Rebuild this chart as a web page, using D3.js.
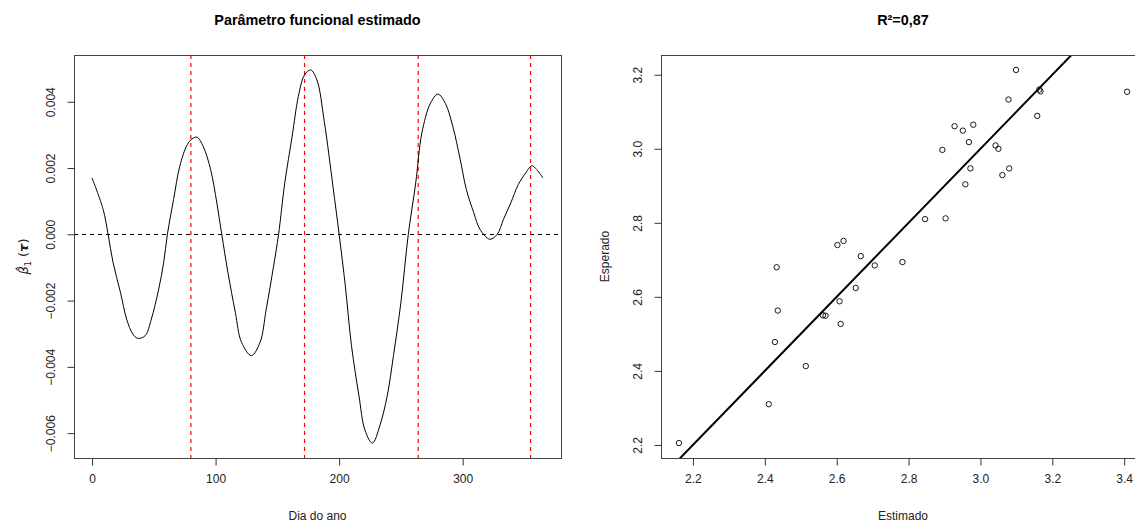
<!DOCTYPE html>
<html>
<head>
<meta charset="utf-8">
<script src="https://cdn.jsdelivr.net/npm/d3@7"></script>
<style>
body { margin: 0; background: #fff; }
svg { display: block; font-family: "Liberation Sans", Arial, sans-serif; }
</style>
</head>
<body>
<div id="chart"></div>
<script>
const w = 1135;
const h = 522;

// painel esquerdo: parametro funcional
const days = [0, 9, 13, 17, 23, 28, 33, 37, 43, 48, 54, 58, 61, 66, 71, 77, 81, 85, 90, 96,
  101, 105, 110, 116, 121, 129, 136, 141, 147, 151, 156, 162, 167, 172, 177, 182, 188, 195,
  200, 205, 210, 216, 221, 227, 233, 239, 244, 250, 256, 262, 267, 274, 280, 286, 292, 298,
  303, 309, 314, 322, 328, 333, 339, 345, 351, 356, 360, 365];
const beta = [0.0017, 0.00075, 0, -0.00085, -0.00175, -0.00256, -0.00301, -0.00314, -0.00306, -0.00256,
  -0.00165, -0.00085, 0, 0.00105, 0.00205, 0.0027, 0.00288, 0.00293, 0.00265, 0.00195,
  0.00095, 0, -0.00115, -0.00236, -0.00326, -0.00366, -0.00326, -0.00226, -0.00095, 0,
  0.00155, 0.00296, 0.00416, 0.00481, 0.00496, 0.00466, 0.0034, 0.00145, 0, -0.00155,
  -0.00336, -0.00486, -0.00592, -0.0063, -0.00577, -0.00486, -0.00366, -0.00206, 0, 0.00155,
  0.00306, 0.00396, 0.00423, 0.00395, 0.00326, 0.00226, 0.00135, 0.00065, 0.00015, -0.00015,
  0, 0.00045, 0.00095, 0.0015, 0.00185, 0.00207, 0.00195, 0.0017];
const seasonDays = [80, 172, 264, 355];
const dayTicks = [0, 100, 200, 300];
const betaTicks = [-0.006, -0.004, -0.002, 0, 0.002, 0.004];

// painel direito: estimado x esperado
const estimado = [2.161, 2.411, 2.428, 2.433, 2.436, 2.514, 2.562, 2.569, 2.602, 2.619,
  2.608, 2.611, 2.653, 2.667, 2.706, 2.783, 2.846, 2.903, 2.894, 2.928,
  2.951, 2.980, 2.968, 3.042, 3.050, 2.972, 3.080, 3.061, 2.958, 3.099,
  3.078, 3.158, 3.164, 3.167, 3.408];
const esperado = [2.205, 2.310, 2.478, 2.680, 2.563, 2.413, 2.550, 2.549, 2.740, 2.751,
  2.588, 2.527, 2.624, 2.710, 2.685, 2.694, 2.810, 2.812, 2.997, 3.061,
  3.049, 3.065, 3.018, 3.009, 3.000, 2.947, 2.947, 2.929, 2.904, 3.213,
  3.133, 3.089, 3.160, 3.155, 3.154];
const estTicks = [2.2, 2.4, 2.6, 2.8, 3.0, 3.2, 3.4];
const espTicks = [2.2, 2.4, 2.6, 2.8, 3.0, 3.2];
const refIntercept = 0;
const refSlope = 1;

const L = {x0: 74, x1: 561, y0: 55, y1: 458};
const R = {x0: 661, x1: 1145, y0: 55, y1: 458};

// extensao estilo R (4% de cada lado)
function padExt(v) {
  const e = d3.extent(v);
  const r = e[1] - e[0];
  return [e[0] - 0.04 * r, e[1] + 0.04 * r];
}

const svg = d3.select("#chart")
  .append("svg")
  .attr("width", w)
  .attr("height", h);

const xL = d3.scaleLinear().domain(padExt(days)).range([L.x0, L.x1]);
const yL = d3.scaleLinear().domain(padExt(beta)).range([L.y1, L.y0]);
const xR = d3.scaleLinear().domain(padExt(estimado)).range([R.x0, R.x1]);
const yR = d3.scaleLinear().domain(padExt(esperado)).range([R.y1, R.y0]);

function bottomAxis(scale, ticks, box, fmt) {
  const g = svg.append("g")
    .attr("transform", "translate(0," + (box.y1 + 0.5) + ")")
    .call(d3.axisBottom(scale).tickValues(ticks).tickSize(7).tickPadding(9).tickFormat(fmt));
  g.select(".domain").remove();
  g.attr("font-size", 12).attr("font-family", null);
  g.selectAll("line").attr("stroke", "#333");
  g.selectAll("text").attr("fill", "#222");
}

function leftAxis(scale, ticks, box, fmt) {
  const g = svg.append("g")
    .attr("transform", "translate(" + (box.x0 + 0.5) + ",0)")
    .call(d3.axisLeft(scale).tickValues(ticks).tickSize(7).tickFormat(fmt));
  g.select(".domain").remove();
  g.attr("font-size", 12).attr("font-family", null);
  g.selectAll("line").attr("stroke", "#333");
  g.selectAll("text")
    .attr("x", null)
    .attr("dy", "0.35em")
    .attr("text-anchor", "middle")
    .attr("transform", "translate(-24,0) rotate(-90)")
    .attr("fill", "#222");
}

// ---------- painel esquerdo ----------
svg.append("text")
  .attr("x", (L.x0 + L.x1) / 2)
  .attr("y", 25)
  .attr("text-anchor", "middle")
  .attr("font-size", 14.4)
  .attr("font-weight", "bold")
  .text("Parâmetro funcional estimado");

svg.append("line")
  .attr("x1", L.x0).attr("x2", L.x1)
  .attr("y1", Math.round(yL(0)) + 0.5).attr("y2", Math.round(yL(0)) + 0.5)
  .attr("stroke", "#000")
  .attr("stroke-dasharray", "4,4");

svg.selectAll(".season")
  .data(seasonDays)
  .enter()
  .append("line")
  .attr("class", "season")
  .attr("x1", d => xL(d))
  .attr("x2", d => xL(d))
  .attr("y1", L.y0).attr("y2", L.y1)
  .style("stroke", "rgb(255,0,0)")
  .attr("stroke-width", 1.2)
  .attr("stroke-dasharray", "4,4");

const betaLine = d3.line()
  .x((d, i) => xL(days[i]))
  .y(d => yL(d))
  .curve(d3.curveCatmullRom.alpha(0.5));

svg.append("path")
  .attr("d", betaLine(beta))
  .attr("fill", "none")
  .attr("stroke", "#000")
  .attr("stroke-width", 1);

svg.append("rect")
  .attr("x", L.x0 + 0.5).attr("y", L.y0 + 0.5)
  .attr("width", L.x1 - L.x0).attr("height", L.y1 - L.y0)
  .attr("fill", "none")
  .attr("stroke", "#444");

bottomAxis(xL, dayTicks, L, d3.format("d"));
leftAxis(yL, betaTicks, L, d3.format(".3f"));

svg.append("text")
  .attr("x", (L.x0 + L.x1) / 2)
  .attr("y", 520)
  .attr("text-anchor", "middle")
  .attr("font-size", 12)
  .attr("fill", "#222")
  .text("Dia do ano");

const yLab = svg.append("text")
  .attr("transform", "translate(28," + ((L.y0 + L.y1) / 2) + ") rotate(-90)")
  .attr("text-anchor", "middle")
  .attr("font-size", 13)
  .attr("font-family", "DejaVu Sans")
  .attr("fill", "#222");
yLab.append("tspan").attr("font-style", "italic").text("β\u0302");
yLab.append("tspan").attr("font-size", 8).attr("dy", 3).text("1");
yLab.append("tspan").attr("dy", -3).text(" (");
yLab.append("tspan").attr("font-style", "italic").attr("font-weight", "bold").text("τ");
yLab.append("tspan").text(")");

// ---------- painel direito ----------
svg.append("text")
  .attr("x", (R.x0 + R.x1) / 2)
  .attr("y", 25)
  .attr("text-anchor", "middle")
  .attr("font-size", 14.4)
  .attr("font-weight", "bold")
  .text("R²=0,87");

svg.append("clipPath")
  .attr("id", "clipR")
  .append("rect")
  .attr("x", R.x0).attr("y", R.y0)
  .attr("width", R.x1 - R.x0).attr("height", R.y1 - R.y0);

const xd = xR.domain();
svg.append("line")
  .attr("clip-path", "url(#clipR)")
  .attr("x1", xR(xd[0])).attr("y1", yR(refIntercept + refSlope * xd[0]))
  .attr("x2", xR(xd[1])).attr("y2", yR(refIntercept + refSlope * xd[1]))
  .attr("stroke", "#000")
  .attr("stroke-width", 2);

svg.selectAll(".pt")
  .data(estimado)
  .enter()
  .append("circle")
  .attr("class", "pt")
  .attr("cx", d => xR(d))
  .attr("cy", (d, i) => yR(esperado[i]))
  .attr("r", 2.7)
  .attr("fill", "none")
  .attr("stroke", "#000")
  .attr("stroke-width", 0.9);

svg.append("rect")
  .attr("x", R.x0 + 0.5).attr("y", R.y0 + 0.5)
  .attr("width", R.x1 - R.x0).attr("height", R.y1 - R.y0)
  .attr("fill", "none")
  .attr("stroke", "#444");

bottomAxis(xR, estTicks, R, d3.format(".1f"));
leftAxis(yR, espTicks, R, d3.format(".1f"));

svg.append("text")
  .attr("x", (R.x0 + R.x1) / 2)
  .attr("y", 520)
  .attr("text-anchor", "middle")
  .attr("font-size", 12)
  .attr("fill", "#222")
  .text("Estimado");

svg.append("text")
  .attr("transform", "translate(609," + ((R.y0 + R.y1) / 2) + ") rotate(-90)")
  .attr("text-anchor", "middle")
  .attr("font-size", 12)
  .attr("fill", "#222")
  .text("Esperado");
</script>
</body>
</html>
